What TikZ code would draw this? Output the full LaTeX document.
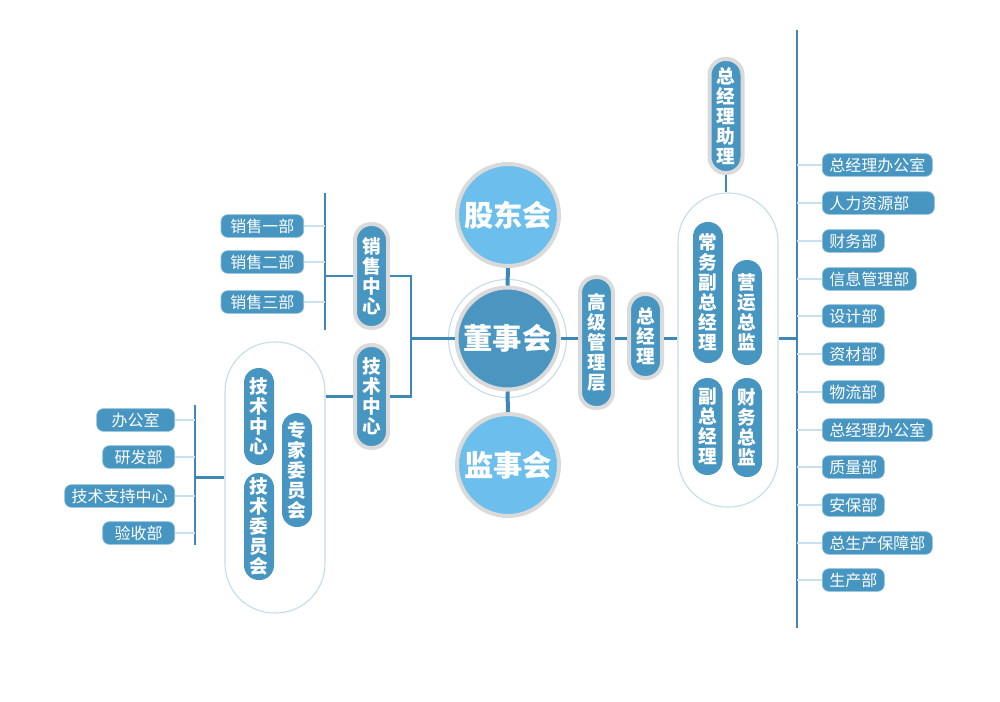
\documentclass[tikz,border=0pt]{standalone}
\usepackage{fontspec}
\setmainfont{Noto Sans CJK SC}
\begin{document}
\begin{tikzpicture}[x=0.75pt,y=-0.75pt,
  every node/.style={text=white},
  ring/.style={draw=ringgrey,line width=3pt},
  vbox/.style={ring,fill=boxblue,rounded corners=12pt,minimum width=24.75pt,inner sep=0pt,align=center,
     font=\fontsize{14}{15}\selectfont\bfseries},
  ibox/.style={fill=boxblue,rounded corners=11pt,minimum width=22.5pt,inner sep=0pt,align=center,
     font=\fontsize{14}{15}\selectfont\bfseries},
  item/.style={fill=boxblue,draw=itemedge,line width=0.5pt,rounded corners=5pt,minimum height=17pt,inner ysep=0pt,inner xsep=5.25pt,
     font=\fontsize{12}{12}\selectfont},
  bigc/.style={circle,ring,minimum size=76.5pt,inner sep=0pt,font=\fontsize{22}{22}\selectfont\bfseries},
  cont/.style={draw=contline,line width=0.8pt,rounded corners=37pt,minimum width=75pt,inner sep=0pt},
  mainline/.style={draw=linecol,line width=2pt},
  stub/.style={draw=linecol,line width=3pt},
  vline/.style={draw=linecol,line width=1.5pt},
  light/.style={draw=lightline,line width=1.2pt}
]
\definecolor{boxblue}{HTML}{4795C1}
\definecolor{lightblue}{HTML}{6CBFEC}
\definecolor{darkc}{HTML}{4B96C1}
\definecolor{ringgrey}{HTML}{DADADA}
\definecolor{linecol}{HTML}{3E88B7}
\definecolor{lightline}{HTML}{C9E1EE}
\definecolor{contline}{HTML}{C3DCE8}
\definecolor{itemedge}{HTML}{8CC0DC}
\useasboundingbox[fill=white] (0,0) rectangle (1000,701);

% circles
\node[bigc,fill=lightblue] (gdh) at (508,215) {股东会};
\node[bigc,fill=darkc] (dsh) at (507.5,338.5) {董事会};
\node[bigc,fill=lightblue] (jsh) at (508,465) {监事会};
\draw[contline,line width=0.8pt] (dsh.center) circle (44.25pt);
\draw[stub] (gdh.south) -- (dsh.north);
\draw[stub] (dsh.south) -- (jsh.north);

% right chain
\node[vbox,minimum height=98.25pt] (gj) at (596.5,342.5) {高\\级\\管\\理\\层};
\node[vbox,minimum height=63pt] (zjl) at (645.5,336) {总\\经\\理};
\node[cont,minimum height=235.5pt] (rc) at (728,350) {};
\node[vbox,minimum height=85.5pt] (zl) at (726,116) {总\\经\\理\\助\\理};
\node[ibox,minimum height=105.75pt] (cw) at (708,292.5) {常\\务\\副\\总\\经\\理};
\node[ibox,minimum height=78.75pt] (yy) at (747,312.5) {营\\运\\总\\监};
\node[ibox,minimum height=72.75pt] (fz) at (707.5,426.5) {副\\总\\经\\理};
\node[ibox,minimum height=74.25pt] (cwz) at (747,427.5) {财\\务\\总\\监};

\coordinate (rtop) at (797,30);
\coordinate (rbot) at (797,628);
\draw[vline] (rtop) -- (rbot);

\draw[mainline] (dsh.east) -- (gj.west |- dsh.east);
\draw[mainline] (gj.east |- dsh.east) -- (zjl.west |- dsh.east);
\draw[mainline] (zjl.east |- dsh.east) -- (rc.west |- dsh.east);
\draw[mainline] (rc.east |- dsh.east) -- (rtop |- dsh.east);
\draw[mainline] (zl.south) -- (zl.south |- rc.north);

% right items
\foreach \n/\y/\t in {r1/165/总经理办公室, r3/241/财务部, r4/279/信息管理部, r5/316/设计部, r6/354/资材部, r7/392/物流部, r8/430/总经理办公室, r9/467/质量部, r10/505/安保部, r11/543/总生产保障部, r12/580/生产部}{
  \node[item,anchor=west] (\n) at (822,\y) {\t};
  \draw[light] (rtop |- \n.west) -- (\n.west);
}
\node[item,anchor=west,text width=73.5pt,align=left] (r2) at (822,203) {人力资源部};
\draw[light] (rtop |- r2.west) -- (r2.west);

% left side
\node[vbox,minimum height=78pt] (xs) at (371.5,276) {销\\售\\中\\心};
\node[vbox,minimum height=77.25pt] (js) at (371.5,396.5) {技\\术\\中\\心};
\coordinate (lj) at (411,338.5);
\draw[mainline] (dsh.west) -- (lj |- dsh.west);
\draw[mainline] (xs.east) -| (lj);
\draw[mainline] (js.east) -| (lj);

\coordinate (lvt) at (325,193);
\coordinate (lvb) at (325,330);
\draw[vline] (lvt) -- (lvb);
\draw[mainline] (xs.west) -- (lvt |- xs.west);
\foreach \n/\y/\t in {s1/226/销售一部, s2/262/销售二部, s3/302/销售三部}{
  \node[item,anchor=east,inner xsep=7pt] (\n) at (304,\y) {\t};
  \draw[light] (\n.east) -- (lvt |- \n.east);
}

\node[cont,minimum height=203.25pt] (lc) at (275,477.5) {};
\draw[mainline] (js.west) -- (lc.east |- js.west);
\node[ibox,minimum height=72.75pt] (jzx) at (259,416.5) {技\\术\\中\\心};
\node[ibox,minimum height=85.5pt] (zj) at (297,470) {专\\家\\委\\员\\会};
\node[ibox,minimum height=80.25pt] (jw) at (259,526.5) {技\\术\\委\\员\\会};

\coordinate (llt) at (195,405);
\coordinate (llb) at (195,545);
\draw[vline] (llt) -- (llb);
\draw[mainline] (lc.west) -- (llt |- lc.west);
\node[item,anchor=east,minimum width=58.5pt] (l1) at (175,420) {办公室};
\node[item,anchor=east,minimum width=54pt] (l2) at (175,457) {研发部};
\node[item,anchor=east,minimum width=81.75pt] (l3) at (175,496) {技术支持中心};
\node[item,anchor=east,minimum width=54pt] (l4) at (175,533) {验收部};
\foreach \n in {l1,l2,l3,l4}{
  \draw[light] (\n.east) -- (llt |- \n.east);
}
\end{tikzpicture}
\end{document}
